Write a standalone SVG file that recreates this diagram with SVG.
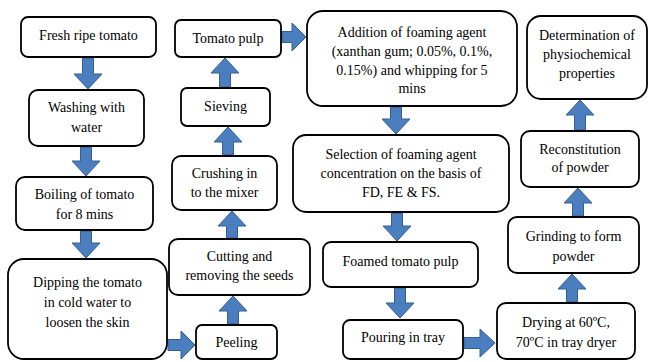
<svg xmlns="http://www.w3.org/2000/svg" width="649" height="362" viewBox="0 0 649 362">
<style>
.box{fill:#fff;stroke:#000;stroke-width:1.8}
.t{font-family:'Liberation Serif',Tinos,'Times New Roman','DejaVu Serif',serif;font-size:14px;fill:#000;text-anchor:middle}
.ar{fill:#4A7EBE;stroke:#355E93;stroke-width:1}
</style>
<rect width="649" height="362" fill="#fff"/>
<g id="connectors">
<path class="ar" d="M82.5 58 H93.5 V74 H102 L88 89 L74 74 H82.5 Z"/>
<path class="ar" d="M80.5 147 H91.5 V161 H100 L86 176 L72 161 H80.5 Z"/>
<path class="ar" d="M80.5 231 H91.5 V243 H100 L86 258 L72 243 H80.5 Z"/>
<path class="ar" d="M168 339.5 H181 V331 L195 345 L181 359 V350.5 H168 Z"/>
<path class="ar" d="M227.5 324 V311 H219 L233 296 L247 311 H238.5 V324 Z"/>
<path class="ar" d="M226.5 238 V226 H218 L232 211 L246 226 H237.5 V238 Z"/>
<path class="ar" d="M222.5 155 V142 H214 L228 127 L242 142 H233.5 V155 Z"/>
<path class="ar" d="M219.5 87 V73 H211 L225 58 L239 73 H230.5 V87 Z"/>
<path class="ar" d="M282 31.5 H292 V23 L306 37 L292 51 V42.5 H282 Z"/>
<path class="ar" d="M390.5 107 H401.5 V119 H410 L396 134 L382 119 H390.5 Z"/>
<path class="ar" d="M391.5 213 H402.5 V226 H411 L397 241 L383 226 H391.5 Z"/>
<path class="ar" d="M394.5 288 H405.5 V303 H414 L400 318 L386 303 H394.5 Z"/>
<path class="ar" d="M464 337.5 H480 V329 L495 343 L480 357 V348.5 H464 Z"/>
<path class="ar" d="M566.5 302 V289 H558 L572 274 L586 289 H577.5 V302 Z"/>
<path class="ar" d="M572.5 216 V203 H564 L578 188 L592 203 H583.5 V216 Z"/>
<path class="ar" d="M574.5 130 V115 H566 L580 100 L594 115 H585.5 V130 Z"/>
</g>
<g id="n1"><rect class="box" x="21" y="17" width="135" height="40" rx="7"/><text class="t" x="88.5" y="40">Fresh ripe tomato</text></g>
<g id="n2"><rect class="box" x="29" y="90" width="115" height="56" rx="9"/><text class="t" x="86.5" y="112">Washing with</text><text class="t" x="86.5" y="132">water</text></g>
<g id="n3"><rect class="box" x="16" y="177" width="137" height="53" rx="9"/><text class="t" x="84.5" y="199">Boiling of tomato</text><text class="t" x="84.5" y="219">for 8 mins</text></g>
<g id="n4"><rect class="box" x="8" y="259" width="159" height="100" rx="16"/><text class="t" x="87.5" y="287">Dipping the tomato</text><text class="t" x="87.5" y="307">in cold water to</text><text class="t" x="87.5" y="327">loosen the skin</text></g>
<g id="n5"><rect class="box" x="196" y="325" width="81" height="34" rx="6"/><text class="t" x="236.5" y="347">Peeling</text></g>
<g id="n6"><rect class="box" x="169" y="239" width="141" height="56" rx="9"/><text class="t" x="239.5" y="261">Cutting and</text><text class="t" x="239.5" y="280">removing the seeds</text></g>
<g id="n7"><rect class="box" x="172" y="156" width="105" height="54" rx="9"/><text class="t" x="224.5" y="178">Crushing in</text><text class="t" x="224.5" y="197">to the mixer</text></g>
<g id="n8"><rect class="box" x="181" y="88" width="89" height="38" rx="6"/><text class="t" x="225.5" y="111">Sieving</text></g>
<g id="n9"><rect class="box" x="175" y="20" width="106" height="37" rx="6"/><text class="t" x="228" y="42.5">Tomato pulp</text></g>
<g id="n10"><rect class="box" x="307" y="11" width="210" height="95" rx="16"/><text class="t" x="412" y="37">Addition of foaming agent</text><text class="t" x="412" y="56">(xanthan gum; 0.05%, 0.1%,</text><text class="t" x="412" y="75">0.15%) and whipping for 5</text><text class="t" x="412" y="93">mins</text></g>
<g id="n11"><rect class="box" x="293" y="135" width="216" height="77" rx="13"/><text class="t" x="401" y="159">Selection of foaming agent</text><text class="t" x="401" y="178">concentration on the basis of</text><text class="t" x="401" y="197">FD, FE &amp; FS.</text></g>
<g id="n12"><rect class="box" x="323" y="242" width="155" height="45" rx="8"/><text class="t" x="400.5" y="266">Foamed tomato pulp</text></g>
<g id="n13"><rect class="box" x="343" y="320" width="120" height="39" rx="7"/><text class="t" x="403" y="342">Pouring in tray</text></g>
<g id="n14"><rect class="box" x="497" y="303" width="138" height="56" rx="9"/><text class="t" x="566" y="327">Drying at 60ºC,</text><text class="t" x="566" y="347">70ºC in tray dryer</text></g>
<g id="n15"><rect class="box" x="508" y="217" width="131" height="56" rx="9"/><text class="t" x="573.5" y="241">Grinding to form</text><text class="t" x="573.5" y="261">powder</text></g>
<g id="n16"><rect class="box" x="521" y="131" width="118" height="56" rx="9"/><text class="t" x="580" y="154">Reconstitution</text><text class="t" x="580" y="172">of powder</text></g>
<g id="n17"><rect class="box" x="527" y="16" width="120" height="83" rx="14"/><text class="t" x="587" y="40">Determination of</text><text class="t" x="587" y="59">physiochemical</text><text class="t" x="587" y="78">properties</text></g>
</svg>
